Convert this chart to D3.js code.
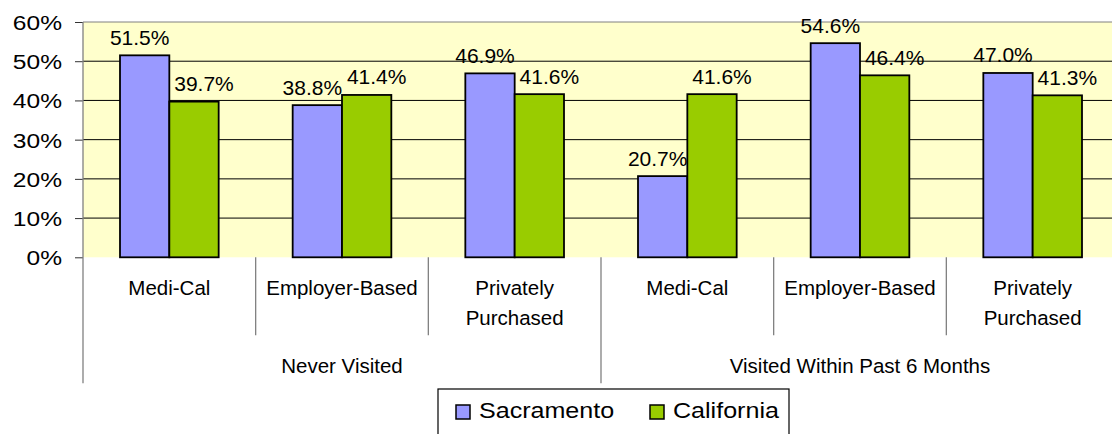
<!DOCTYPE html>
<html>
<head>
<meta charset="utf-8">
<script src="https://cdn.jsdelivr.net/npm/d3@7"></script>
<style>
  body { margin: 0; background: #fff; }
  text { font-family: "Liberation Sans", Arial, sans-serif; fill: #000; }
</style>
</head>
<body>
<div class="chart"></div>
<script>
// chart data
const categories = ["Medi-Cal", "Employer-Based", "Privately\nPurchased",
                    "Medi-Cal", "Employer-Based", "Privately\nPurchased"];
const groups = ["Never Visited", "Visited Within Past 6 Months"];
const seriesNames = ["Sacramento", "California"];
const sacramento = [51.5, 38.8, 46.9, 20.7, 54.6, 47.0];
const california = [39.7, 41.4, 41.6, 41.6, 46.4, 41.3];
const yTicks = [0, 10, 20, 30, 40, 50, 60];

const colors = ["#9999FF", "#99CC00"];

const svgWidth = 1112;
const svgHeight = 434;

const margin = {
  top: 22,
  left: 83
};

// plot runs past the right edge of the picture, like the original
const width = 1036;
const height = 235.3;

const svg = d3
  .select(".chart")
  .append("svg")
  .attr("width", svgWidth)
  .attr("height", svgHeight);

const chartGroup = svg.append("g")
  .attr("transform", `translate(${margin.left}, ${margin.top})`);

// scales
const xScale = d3.scaleBand()
  .domain(d3.range(categories.length))
  .range([0, width]);

const xInner = d3.scaleBand()
  .domain(seriesNames)
  .range([0, xScale.bandwidth()])
  .paddingOuter(0.75);

const yScale = d3.scaleLinear()
  .domain([0, 60])
  .range([height, 0]);

// plot background
chartGroup.append("rect")
  .attr("width", width)
  .attr("height", height)
  .attr("fill", "#FFFFCC");

// gridlines
chartGroup.append("g")
  .selectAll("line")
  .data(yTicks.filter(d => d > 0 && d < 60))
  .enter()
  .append("line")
  .attr("x1", 0)
  .attr("x2", width)
  .attr("y1", d => yScale(d))
  .attr("y2", d => yScale(d))
  .attr("stroke", "#000")
  .attr("stroke-width", 1);

// top border
chartGroup.append("line")
  .attr("x1", 0)
  .attr("x2", width)
  .attr("y1", yScale(60))
  .attr("y2", yScale(60))
  .attr("stroke", "#808080");

// bars
const rows = categories.map((c, i) => ({ i: i, values: [sacramento[i], california[i]] }));

const catGroups = chartGroup.selectAll(".cat")
  .data(rows)
  .enter()
  .append("g")
  .attr("class", "cat")
  .attr("transform", d => `translate(${xScale(d.i)}, 0)`);

catGroups.selectAll("rect")
  .data(d => d.values.map((v, k) => ({ key: seriesNames[k], value: v, k: k })))
  .enter()
  .append("rect")
  .attr("x", d => xInner(d.key))
  .attr("y", d => yScale(d.value))
  .attr("width", xInner.bandwidth())
  .attr("height", d => height - yScale(d.value))
  .attr("fill", d => colors[d.k])
  .attr("stroke", "#000")
  .attr("stroke-width", 1.8);

// data labels (Excel nudges them apart a little)
const labelShift = [-5, 10];
catGroups.selectAll(".val")
  .data(d => d.values.map((v, k) => ({ key: seriesNames[k], value: v, k: k })))
  .enter()
  .append("text")
  .attr("class", "val")
  .attr("x", d => xInner(d.key) + xInner.bandwidth() / 2 + labelShift[d.k])
  .attr("y", d => yScale(d.value) - 10.5)
  .attr("text-anchor", "middle")
  .style("font-size", "21px")
  .text(d => d3.format(".1f")(d.value) + "%");

// y axis
const leftAxis = d3.axisLeft(yScale)
  .tickValues(yTicks)
  .tickSize(8)
  .tickFormat(d => d + "%");

const yAxis = chartGroup.append("g").call(leftAxis);
yAxis.select(".domain").remove();
yAxis.selectAll(".tick line").attr("stroke", "#333");
yAxis.selectAll(".tick text")
  .attr("x", 0)
  .attr("dy", "0.35em")
  .attr("transform", "translate(-21,0) scale(1.17,1)")
  .style("font-size", "21px")
  .style("font-family", "'Liberation Sans', Arial, sans-serif")
  .attr("fill", "#000");

// left axis line, runs down through the category area
chartGroup.append("line")
  .attr("x1", 0)
  .attr("x2", 0)
  .attr("y1", 0)
  .attr("y2", height + 126)
  .attr("stroke", "#808080")
  .attr("stroke-width", 1.3);

// category separators
const perGroup = categories.length / groups.length;
chartGroup.append("g")
  .selectAll("line")
  .data(d3.range(1, categories.length + 1))
  .enter()
  .append("line")
  .attr("x1", d => d < categories.length ? xScale(d) : width)
  .attr("x2", d => d < categories.length ? xScale(d) : width)
  .attr("y1", height)
  .attr("y2", d => d % perGroup === 0 ? height + 126 : height + 78)
  .attr("stroke", "#808080")
  .attr("stroke-width", 1.3);

// category labels
const catLabels = chartGroup.append("g")
  .selectAll("text")
  .data(categories)
  .enter()
  .append("text")
  .attr("x", (d, i) => xScale(i) + xScale.bandwidth() / 2)
  .attr("y", height + 38)
  .attr("text-anchor", "middle")
  .style("font-size", "20.5px");

catLabels.selectAll("tspan")
  .data(d => d.split("\n"))
  .enter()
  .append("tspan")
  .attr("x", function() { return d3.select(this.parentNode).attr("x"); })
  .attr("dy", (d, i) => i === 0 ? 0 : 30)
  .text(d => d);

// group labels
chartGroup.append("g")
  .selectAll("text")
  .data(groups)
  .enter()
  .append("text")
  .attr("x", (d, i) => xScale(i * perGroup) + xScale.bandwidth() * perGroup / 2)
  .attr("y", height + 115.5)
  .attr("text-anchor", "middle")
  .style("font-size", "20.5px")
  .text(d => d);

// legend
const legend = svg.append("g")
  .attr("transform", "translate(438, 389)");

legend.append("rect")
  .attr("width", 351)
  .attr("height", 60)
  .attr("fill", "#fff")
  .attr("stroke", "#000")
  .attr("stroke-width", 1.2);

const legendX = [18, 212];
const items = legend.selectAll(".item")
  .data(seriesNames)
  .enter()
  .append("g")
  .attr("class", "item")
  .attr("transform", (d, i) => `translate(${legendX[i]}, 0)`);

items.append("rect")
  .attr("x", 0)
  .attr("y", 16)
  .attr("width", 14)
  .attr("height", 14)
  .attr("fill", (d, i) => colors[i])
  .attr("stroke", "#000")
  .attr("stroke-width", 1.5);

items.append("text")
  .attr("transform", "translate(23, 29) scale(1.14,1)")
  .style("font-size", "22px")
  .text(d => d);
</script>
</body>
</html>
